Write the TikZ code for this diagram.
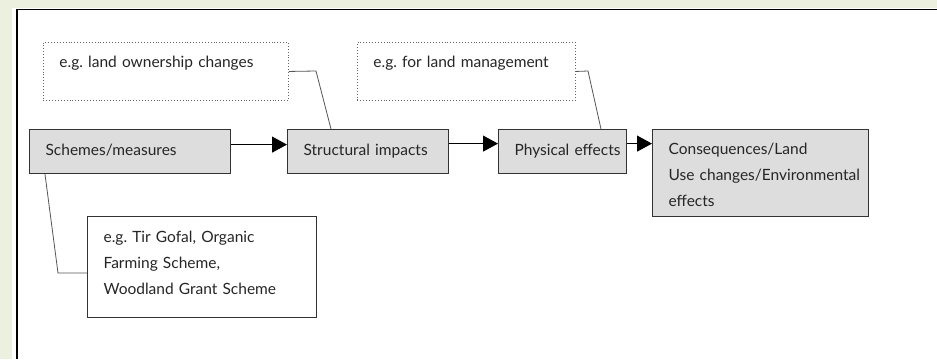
\documentclass[tikz,border=0pt]{standalone}
\usepackage{fontspec}
\setmainfont{Lato}
\usetikzlibrary{arrows.meta,calc}
\definecolor{pagegreen}{HTML}{EBF1DE}
\definecolor{boxgray}{HTML}{DDDDDD}
\definecolor{linkgray}{HTML}{555555}
\frenchspacing
\hyphenpenalty=10000
\exhyphenpenalty=10000
\tikzset{
  base/.style={anchor=north west, align=left, inner xsep=16pt, inner ysep=0pt,
    font=\fontsize{15.5}{26}\selectfont, text=black!85},
  oneline/.style={text height=12pt, text depth=5pt},
  stage/.style={base, draw=black!80, line width=1.2pt, fill=boxgray},
  note/.style={base, draw=black!80, line width=1.2pt, fill=white},
  example/.style={base, oneline, text depth=20pt, draw=black!60, dotted, line width=0.9pt},
  link/.style={draw=linkgray, line width=0.8pt},
  flow/.style={draw=black, line width=1pt, -{Triangle[length=15pt,width=16pt]}}
}
\begin{document}
\begin{tikzpicture}[x=1pt,y=-1pt]
  % page background and frame
  \fill[pagegreen] (0,0) rectangle (937,359);
  \fill[white] (12,8) rectangle (937,359);
  \useasboundingbox (0,0) rectangle (937,359);
  \draw[line width=1.4pt] (17,359) -- (17,9.5) -- (937,9.5);

  % example boxes
  \node[example, text width=213pt, minimum height=58pt] (own) at (43,42)
    {e.g.~land~ownership~changes};
  \node[example, text width=186pt, minimum height=58pt] (mgmt) at (357,42)
    {e.g.~for~land~management};

  % stages
  \node[stage, oneline, text width=169pt, minimum height=44pt] (sch) at (29,129) {Schemes/measures};
  \node[stage, oneline, text width=129pt, minimum height=44pt] (str) at (287,129) {Structural~impacts};
  \node[stage, oneline, text width=96pt, minimum height=44pt] (phy) at (498,129) {\mbox{Physical~effects}};
  \node[stage, text width=184pt, minimum height=87pt] (con) at (652,129)
    {\rule{0pt}{15pt}Consequences/Land\\\mbox{Use~changes/Environmental}\\effects};

  % scheme examples
  \node[note, text width=197pt, minimum height=101pt] (tir) at (87,216)
    {e.g.~Tir~Gofal,~Organic\\Farming~Scheme,\\Woodland~Grant~Scheme\rule[-8pt]{0pt}{8pt}};

  % flow arrows
  \draw[flow] ([yshift=7pt]sch.east) -- ([yshift=7pt]str.west);
  \draw[flow] ([yshift=8pt]str.east) -- ([yshift=8pt]phy.west);
  \draw[flow] ([yshift=8pt]phy.east) -- ([yshift=8pt]phy.east -| con.west);

  % callout links
  \coordinate (k1) at (316,71);
  \coordinate (k2) at (588,71);
  \coordinate (k3) at (58,273);
  \draw[link] (own.east) -- (k1) -- ($(str.north west)+(44,0)$);
  \draw[link] (mgmt.east) -- (k2) -- ($(phy.north west)+(103,0)$);
  \draw[link] ($(sch.south west)+(16,0)$) -- (k3) -- (k3 -| tir.west);
\end{tikzpicture}
\end{document}
